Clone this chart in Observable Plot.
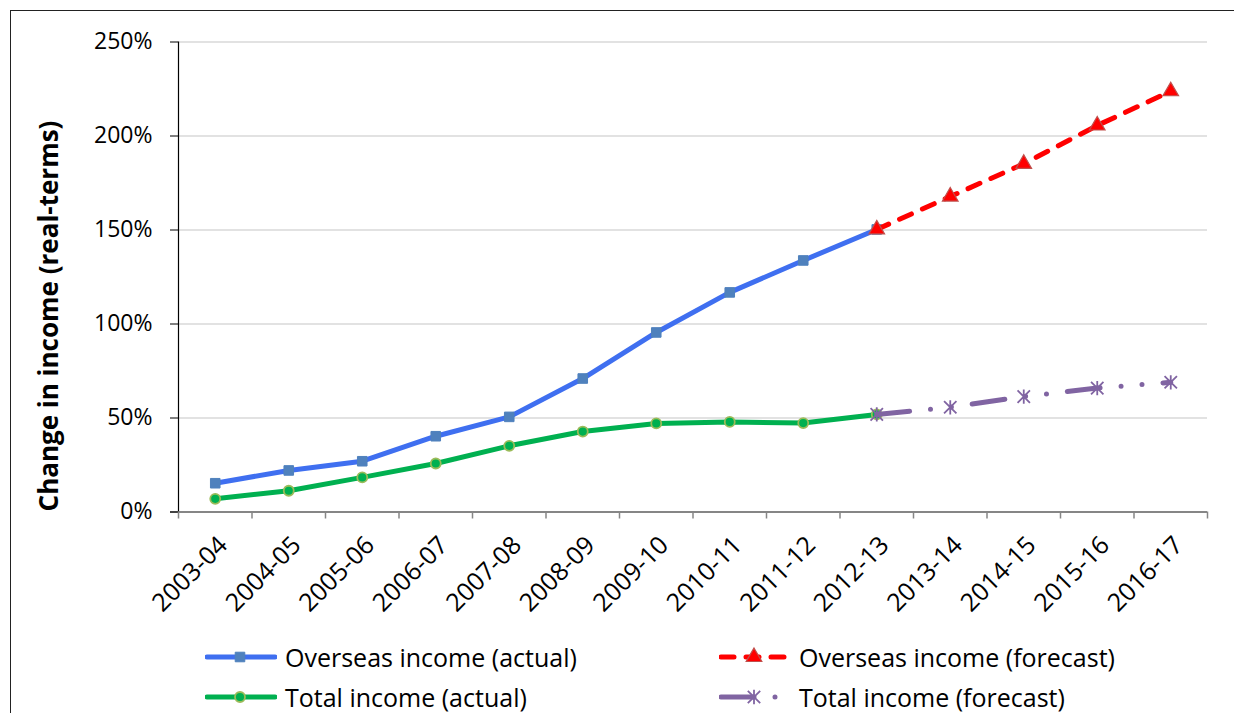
<!DOCTYPE html>
<html>
<head>
<meta charset="utf-8">
<script src="https://cdn.jsdelivr.net/npm/d3@7"></script>
<script src="https://cdn.jsdelivr.net/npm/@observablehq/plot@0.6"></script>
<style>
  html, body { margin: 0; padding: 0; background: #fff; overflow: hidden; }
  body { width: 1234px; height: 713px; position: relative; font-family: "Open Sans", sans-serif; }
  #frame { position: absolute; left: 10px; top: 10px; width: 1300px; height: 800px; border: 1.5px solid #222; box-sizing: border-box; }
  #chart { position: absolute; left: 0; top: 0; }
  #legend { position: absolute; left: 0; top: 0; }
  .item { position: absolute; display: flex; align-items: center; font-size: 25px; color: #000; white-space: nowrap; height: 34px; }
  .item svg { margin-right: 8px; flex: none; }
</style>
</head>
<body>
<div id="frame"></div>
<div id="chart"></div>
<div id="legend"></div>
<script>
// Financial years on the x axis
const years = ["2003-04", "2004-05", "2005-06", "2006-07", "2007-08", "2008-09", "2009-10",
  "2010-11", "2011-12", "2012-13", "2013-14", "2014-15", "2015-16", "2016-17"];

// Real-terms change in income since the base year, in percent
const overseasActual = [15.3, 22.1, 27.0, 40.3, 50.6, 71.0, 95.5, 116.8, 133.8, 150.3];
const overseasForecast = [150.3, 167.8, 185.2, 205.6, 223.8]; // 2012-13 .. 2016-17
const totalActual = [7.0, 11.3, 18.4, 25.8, 35.2, 42.8, 47.1, 47.9, 47.3, 51.9];
const totalForecast = [51.9, 55.7, 61.4, 65.9, 69.0]; // 2012-13 .. 2016-17

const yTicks = [0, 50, 100, 150, 200, 250];
const yLabel = "Change in income (real-terms)";
const forecastStart = years.indexOf("2012-13");

// Star marker: an X crossed by a vertical stroke
const starSymbol = {
  draw(context, size) {
    const r = Math.sqrt(size / Math.PI);
    context.moveTo(-r, -r); context.lineTo(r, r);
    context.moveTo(r, -r); context.lineTo(-r, r);
    context.moveTo(0, -r * 1.15); context.lineTo(0, r * 1.15);
  }
};

const series = [
  {name: "Overseas income (actual)", values: overseasActual, start: 0,
   stroke: "#3F6FF0", dash: null, symbol: "square", r: 5.4, fill: "#4F81BD", mstroke: "#4F81BD", mwidth: 1},
  {name: "Total income (actual)", values: totalActual, start: 0,
   stroke: "#00B050", dash: null, symbol: "circle", r: 5, fill: "#00B050", mstroke: "#9BBB59", mwidth: 1.8},
  {name: "Overseas income (forecast)", values: overseasForecast, start: forecastStart,
   stroke: "#FF0000", dash: "13,12", symbol: "triangle", r: 5.8, fill: "#FF0000", mstroke: "#C0504D", mwidth: 1.2},
  {name: "Total income (forecast)", values: totalForecast, start: forecastStart,
   stroke: "#8064A2", dash: "33,21,0,21,0,21", symbol: starSymbol, r: 6.2, fill: "none", mstroke: "#8064A2", mwidth: 1.8}
];

const rowsOf = (s) => s.values.map((v, k) => ({i: s.start + k, year: years[s.start + k], value: v}));

const xDomain = [-0.5, years.length - 0.5];
const boundaries = d3.range(years.length + 1).map((k) => k - 0.5);

const marks = [
  Plot.gridY(yTicks, {stroke: "#d9d9d9", strokeOpacity: 1, strokeWidth: 1.3}),
  Plot.ruleY([0], {stroke: "#868686", strokeWidth: 2, insetLeft: -8}),
  Plot.ruleX([xDomain[0]], {stroke: "#000", strokeWidth: 1.2}),
  Plot.axisY(yTicks, {tickSize: 8, tickPadding: 18, tickFormat: (d) => d + "%", label: null, stroke: "#000"}),
  Plot.axisX(boundaries, {tickSize: 7, tickFormat: () => "", label: null, stroke: "#868686", strokeWidth: 1.5}),
  Plot.axisX(d3.range(years.length), {tickSize: 0, tickRotate: -45, tickPadding: 29, dx: 8,
    fontSize: 25, tickFormat: (i) => years[i], label: null}),
  Plot.text([yLabel], {frameAnchor: "left", textAnchor: "middle", rotate: -90, dx: -129, dy: 39,
    fontWeight: "bold", fontSize: 26, fill: "#000"})
];

for (const s of series) {
  const rows = rowsOf(s);
  marks.push(Plot.line(rows, {x: "i", y: "value", stroke: s.stroke, strokeWidth: 5,
    strokeDasharray: s.dash, strokeLinecap: "round", strokeLinejoin: "round"}));
  marks.push(Plot.dot(rows, {x: "i", y: "value", symbol: s.symbol, r: s.r,
    fill: s.fill, stroke: s.mstroke, strokeWidth: s.mwidth}));
}

const chart = Plot.plot({
  width: 1234,
  height: 632,
  marginLeft: 178,
  marginRight: 27,
  marginTop: 41.5,
  marginBottom: 120.5,
  x: {type: "linear", domain: xDomain, label: null},
  y: {domain: [0, 250], label: null},
  style: {fontFamily: "Open Sans", fontSize: "23px", color: "#000", background: "transparent"},
  marks
});
document.getElementById("chart").appendChild(chart);

// Legend: two rows, two columns
const legend = d3.select("#legend");
const symbolPath = (sym, r) => {
  const type = typeof sym === "object" ? sym : {square: d3.symbolSquare, circle: d3.symbolCircle, triangle: d3.symbolTriangle}[sym];
  return d3.symbol(type, r * r * Math.PI)();
};
const slots = [
  {left: 205, top: 640},
  {left: 205, top: 680},
  {left: 719, top: 640},
  {left: 719, top: 680}
];
series.forEach((s, k) => {
  const item = legend.append("div").attr("class", "item")
    .style("left", slots[k].left + "px").style("top", slots[k].top + "px");
  const svg = item.append("svg").attr("width", 72).attr("height", 34);
  svg.append("line").attr("x1", 2).attr("x2", 70).attr("y1", 17).attr("y2", 17)
    .attr("stroke", s.stroke).attr("stroke-width", 5).attr("stroke-linecap", "round")
    .attr("stroke-dasharray", s.dash);
  svg.append("path").attr("transform", "translate(35,17)").attr("d", symbolPath(s.symbol, s.r))
    .attr("fill", s.fill).attr("stroke", s.mstroke).attr("stroke-width", s.mwidth);
  item.append("span").text(s.name);
});
</script>
</body>
</html>
